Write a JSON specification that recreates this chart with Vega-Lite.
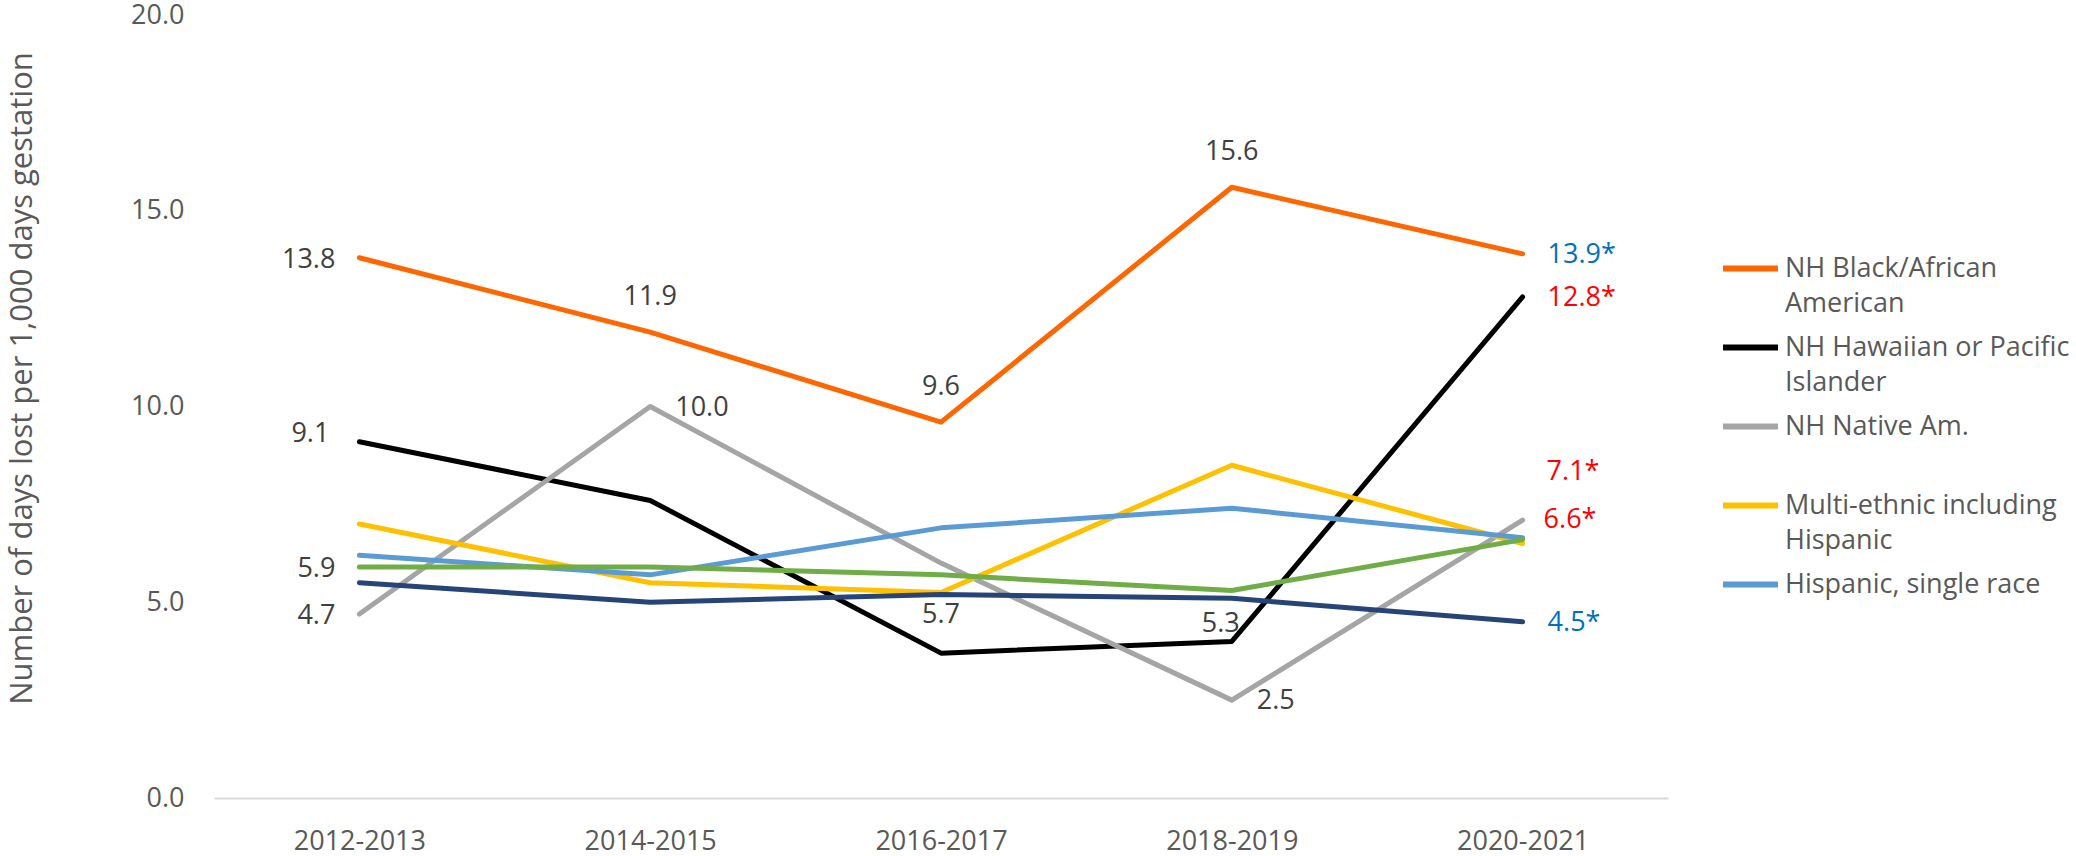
{
  "$schema": "https://vega.github.io/schema/vega-lite/v6.json",
  "width": 1454,
  "height": 783,
  "autosize": {"type": "none"},
  "padding": {"left": 214, "top": 15, "right": 408, "bottom": 58},
  "background": "white",
  "config": {
    "view": {"stroke": null},
    "style": {"guide-label": {"lineHeight": 35}}
  },
  "data": {
    "values": [
      {"series": "NH Black/African American", "period": "2012-2013", "value": 13.8, "label": "13.8", "change": null},
      {"series": "NH Black/African American", "period": "2014-2015", "value": 11.9, "label": "11.9", "change": null},
      {"series": "NH Black/African American", "period": "2016-2017", "value": 9.6, "label": "9.6", "change": null},
      {"series": "NH Black/African American", "period": "2018-2019", "value": 15.6, "label": "15.6", "change": null},
      {"series": "NH Black/African American", "period": "2020-2021", "value": 13.9, "label": "13.9*", "change": "decrease"},
      {"series": "NH Hawaiian or Pacific Islander", "period": "2012-2013", "value": 9.1, "label": "9.1", "change": null},
      {"series": "NH Hawaiian or Pacific Islander", "period": "2014-2015", "value": 7.6, "label": null, "change": null},
      {"series": "NH Hawaiian or Pacific Islander", "period": "2016-2017", "value": 3.7, "label": null, "change": null},
      {"series": "NH Hawaiian or Pacific Islander", "period": "2018-2019", "value": 4.0, "label": null, "change": null},
      {"series": "NH Hawaiian or Pacific Islander", "period": "2020-2021", "value": 12.8, "label": "12.8*", "change": "increase"},
      {"series": "NH Native Am.", "period": "2012-2013", "value": 4.7, "label": "4.7", "change": null},
      {"series": "NH Native Am.", "period": "2014-2015", "value": 10.0, "label": "10.0", "change": null},
      {"series": "NH Native Am.", "period": "2016-2017", "value": 6.0, "label": null, "change": null},
      {"series": "NH Native Am.", "period": "2018-2019", "value": 2.5, "label": "2.5", "change": null},
      {"series": "NH Native Am.", "period": "2020-2021", "value": 7.1, "label": "7.1*", "change": "increase"},
      {"series": "Multi-ethnic including Hispanic", "period": "2012-2013", "value": 7.0, "label": null, "change": null},
      {"series": "Multi-ethnic including Hispanic", "period": "2014-2015", "value": 5.5, "label": null, "change": null},
      {"series": "Multi-ethnic including Hispanic", "period": "2016-2017", "value": 5.25, "label": null, "change": null},
      {"series": "Multi-ethnic including Hispanic", "period": "2018-2019", "value": 8.5, "label": null, "change": null},
      {"series": "Multi-ethnic including Hispanic", "period": "2020-2021", "value": 6.5, "label": null, "change": null},
      {"series": "Hispanic, single race", "period": "2012-2013", "value": 6.2, "label": null, "change": null},
      {"series": "Hispanic, single race", "period": "2014-2015", "value": 5.7, "label": null, "change": null},
      {"series": "Hispanic, single race", "period": "2016-2017", "value": 6.9, "label": null, "change": null},
      {"series": "Hispanic, single race", "period": "2018-2019", "value": 7.4, "label": null, "change": null},
      {"series": "Hispanic, single race", "period": "2020-2021", "value": 6.65, "label": null, "change": null},
      {"series": "NH Asian", "period": "2012-2013", "value": 5.9, "label": "5.9", "change": null},
      {"series": "NH Asian", "period": "2014-2015", "value": 5.9, "label": null, "change": null},
      {"series": "NH Asian", "period": "2016-2017", "value": 5.7, "label": "5.7", "change": null},
      {"series": "NH Asian", "period": "2018-2019", "value": 5.3, "label": "5.3", "change": null},
      {"series": "NH Asian", "period": "2020-2021", "value": 6.6, "label": "6.6*", "change": "increase"},
      {"series": "NH White", "period": "2012-2013", "value": 5.5, "label": null, "change": null},
      {"series": "NH White", "period": "2014-2015", "value": 5.0, "label": null, "change": null},
      {"series": "NH White", "period": "2016-2017", "value": 5.2, "label": null, "change": null},
      {"series": "NH White", "period": "2018-2019", "value": 5.1, "label": null, "change": null},
      {"series": "NH White", "period": "2020-2021", "value": 4.5, "label": "4.5*", "change": "decrease"}
    ]
  },
  "encoding": {
    "x": {
      "field": "period", "type": "ordinal",
      "scale": {"type": "point", "padding": 0.5},
      "axis": {
        "title": null, "labelAngle": 0, "ticks": false, "grid": false,
        "domainColor": "#D9D9D9", "domainWidth": 2,
        "labelFont": "Open Sans", "labelFontSize": 27, "labelColor": "#595959",
        "labelPadding": 30
      }
    },
    "y": {
      "field": "value", "type": "quantitative",
      "scale": {"domain": [0, 20], "nice": false, "zero": true},
      "axis": {
        "title": "Number of days lost per 1,000 days gestation",
        "values": [0, 5, 10, 15, 20], "format": ".1f",
        "ticks": false, "domain": false, "grid": false,
        "labelFont": "Open Sans", "labelFontSize": 27, "labelColor": "#595959",
        "labelPadding": 30,
        "titleFont": "Open Sans", "titleFontSize": 31, "titleFontWeight": "normal", "titleColor": "#595959",
        "titleX": -192, "titleY": 363, "titleBaseline": "middle"
      }
    }
  },
  "layer": [
    {
      "mark": {"type": "line", "strokeWidth": 5, "strokeCap": "round", "strokeJoin": "round"},
      "encoding": {
        "color": {
          "field": "series", "type": "nominal",
          "scale": {
            "domain": ["NH Black/African American", "NH Hawaiian or Pacific Islander", "NH Native Am.", "Multi-ethnic including Hispanic", "Hispanic, single race", "NH Asian", "NH White"],
            "range": ["#FF6600", "#000000", "#A5A5A5", "#FFC000", "#5B9BD5", "#70AD47", "#264478"]
          },
          "legend": {
            "orient": "none", "legendX": 1506, "legendY": 223,
            "values": ["NH Black/African American", "NH Hawaiian or Pacific Islander", "NH Native Am.", "Multi-ethnic including Hispanic", "Hispanic, single race"],
            "title": null, "symbolType": "stroke", "symbolSize": 3025, "symbolStrokeWidth": 6,
            "labelFont": "Open Sans", "labelFontSize": 27, "labelColor": "#595959",
            "labelLimit": 600, "labelOffset": 4, "rowPadding": 0, "padding": 0,
            "labelExpr": "datum.label == 'NH Black/African American' ? ['NH Black/African', 'American'] : datum.label == 'NH Hawaiian or Pacific Islander' ? ['NH Hawaiian or Pacific', 'Islander'] : datum.label == 'Multi-ethnic including Hispanic' ? ['Multi-ethnic including', 'Hispanic'] : datum.label == 'NH Native Am.' ? ['NH Native Am.', ' '] : datum.label"
          }
        }
      }
    },
    {
      "transform": [{"filter": "datum.label != null && datum.period == '2012-2013' && datum.series != 'NH Hawaiian or Pacific Islander'"}],
      "mark": {"type": "text", "align": "right", "baseline": "middle", "dx": -24, "dy": 2, "font": "Open Sans", "fontSize": 27},
      "encoding": {"text": {"field": "label"}, "color": {"value": "#404040"}}
    },
    {
      "transform": [{"filter": "datum.series == 'NH Hawaiian or Pacific Islander' && datum.period == '2012-2013'"}],
      "mark": {"type": "text", "align": "right", "baseline": "middle", "dx": -30, "dy": -8, "font": "Open Sans", "fontSize": 27},
      "encoding": {"text": {"field": "label"}, "color": {"value": "#404040"}}
    },
    {
      "transform": [{"filter": "datum.label != null && ((datum.period == '2020-2021' && (datum.series == 'NH Black/African American' || datum.series == 'NH Hawaiian or Pacific Islander' || datum.series == 'NH White')) || (datum.series == 'NH Native Am.' && (datum.period == '2014-2015' || datum.period == '2018-2019')))"}],
      "mark": {"type": "text", "align": "left", "baseline": "middle", "dx": 25, "dy": 1, "font": "Open Sans", "fontSize": 27},
      "encoding": {
        "text": {"field": "label"},
        "color": {"condition": [{"test": "datum.change == 'increase'", "value": "#FF0000"}, {"test": "datum.change == 'decrease'", "value": "#0070C0"}], "value": "#404040"}
      }
    },
    {
      "transform": [{"filter": "datum.series == 'NH Native Am.' && datum.period == '2020-2021'"}],
      "mark": {"type": "text", "align": "left", "baseline": "middle", "dx": 24, "dy": -48, "font": "Open Sans", "fontSize": 27},
      "encoding": {
        "text": {"field": "label"},
        "color": {"condition": [{"test": "datum.change == 'increase'", "value": "#FF0000"}, {"test": "datum.change == 'decrease'", "value": "#0070C0"}], "value": "#404040"}
      }
    },
    {
      "transform": [{"filter": "datum.series == 'NH Asian' && datum.period == '2020-2021'"}],
      "mark": {"type": "text", "align": "left", "baseline": "middle", "dx": 21, "dy": -20, "font": "Open Sans", "fontSize": 27},
      "encoding": {
        "text": {"field": "label"},
        "color": {"condition": [{"test": "datum.change == 'increase'", "value": "#FF0000"}, {"test": "datum.change == 'decrease'", "value": "#0070C0"}], "value": "#404040"}
      }
    },
    {
      "transform": [{"filter": "datum.series == 'NH Black/African American' && datum.period != '2012-2013' && datum.period != '2020-2021'"}],
      "mark": {"type": "text", "align": "center", "baseline": "middle", "dy": -35, "font": "Open Sans", "fontSize": 27},
      "encoding": {"text": {"field": "label"}, "color": {"value": "#404040"}}
    },
    {
      "transform": [{"filter": "datum.series == 'NH Asian' && datum.period == '2016-2017'"}],
      "mark": {"type": "text", "align": "center", "baseline": "middle", "dy": 40, "font": "Open Sans", "fontSize": 27},
      "encoding": {"text": {"field": "label"}, "color": {"value": "#404040"}}
    },
    {
      "transform": [{"filter": "datum.series == 'NH Asian' && datum.period == '2018-2019'"}],
      "mark": {"type": "text", "align": "center", "baseline": "middle", "dx": -11, "dy": 33, "font": "Open Sans", "fontSize": 27},
      "encoding": {"text": {"field": "label"}, "color": {"value": "#404040"}}
    }
  ]
}
